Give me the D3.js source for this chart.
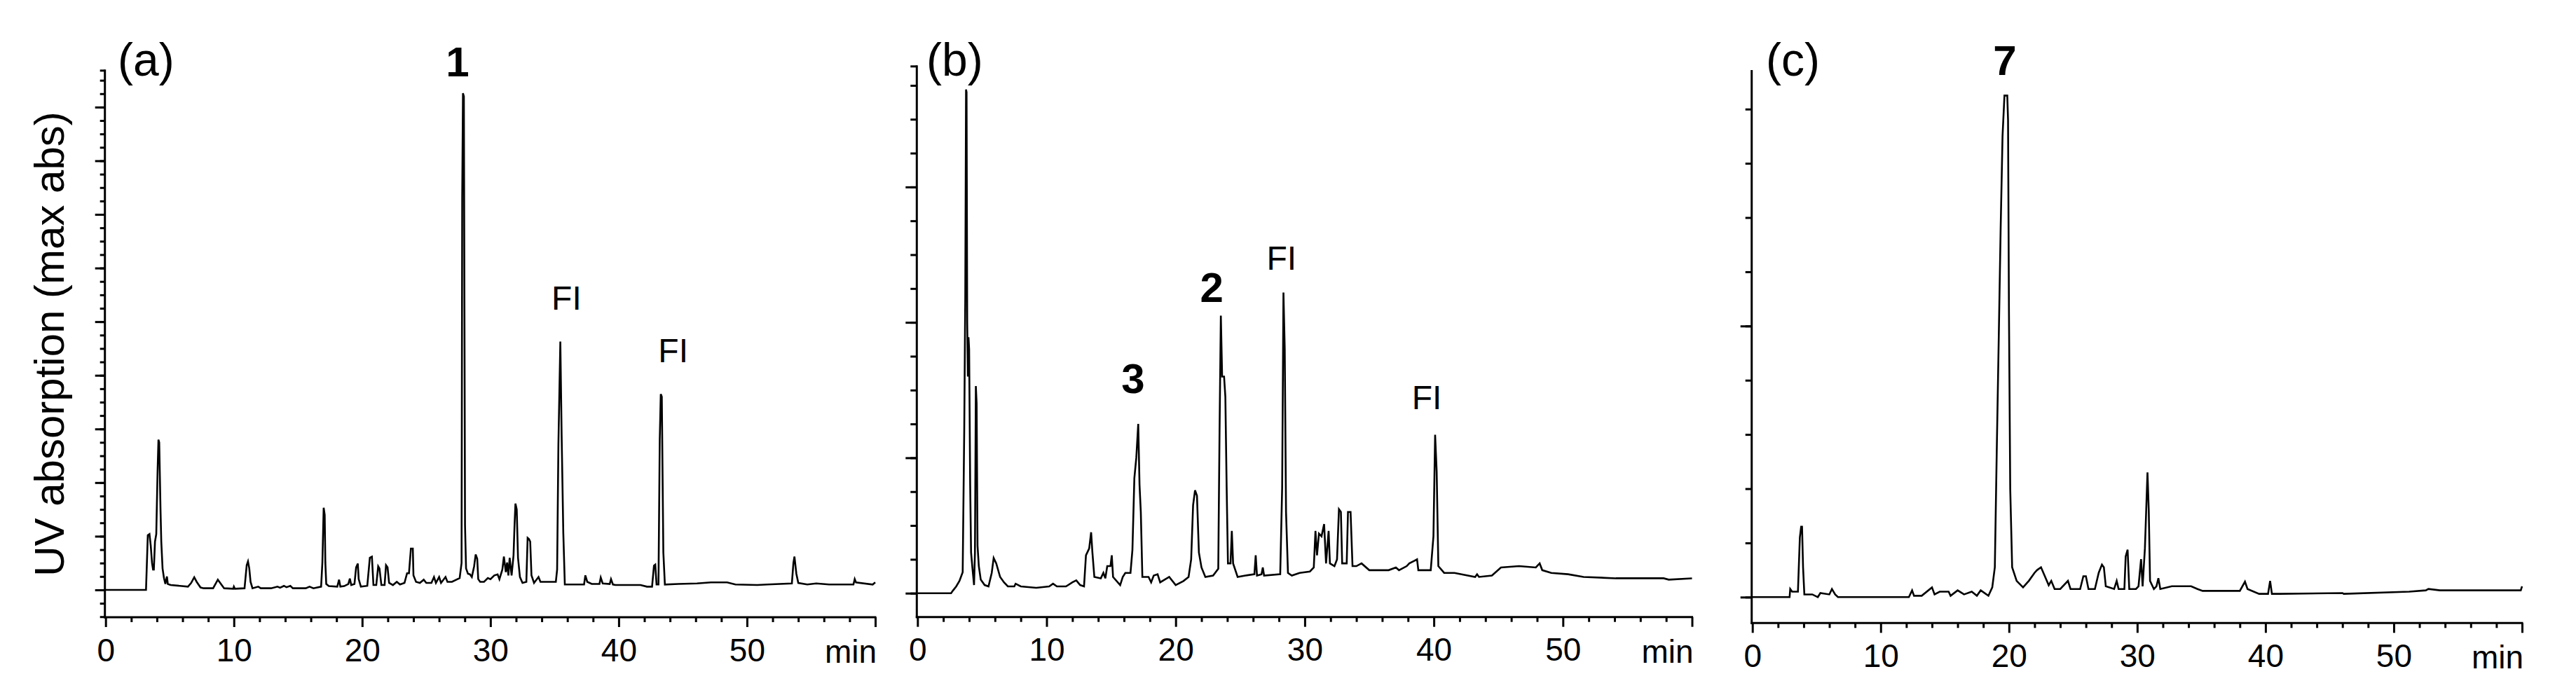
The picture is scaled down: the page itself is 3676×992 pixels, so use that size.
<!DOCTYPE html>
<html>
<head>
<meta charset="utf-8">
<script src="https://cdn.jsdelivr.net/npm/d3@7"></script>
<style>
  body { margin: 0; background: #fff; }
  svg { display: block; }
  text { font-family: "Liberation Sans", Arial, sans-serif; fill: #000; }
</style>
</head>
<body>
<div id="chart"></div>
<script>
// chromatogram traces, [time (min), absorbance in tick units]
const traceA = [
  [0,0],[3.15,0],[3.29,1.02],[3.42,1.04],[3.52,0.82],[3.62,0.5],[3.7,0.38],[3.76,0.38],[3.85,0.9],[3.95,1.04],
  [4.05,2.2],[4.12,2.8],[4.18,2.75],[4.28,1.5],[4.34,0.9],[4.44,0.4],[4.55,0.22],[4.66,0.11],[4.78,0.25],[4.85,0.11],
  [5.07,0.09],[5.8,0.075],[6.42,0.06],[6.67,0.13],[6.91,0.235],[7.1,0.15],[7.4,0.045],[7.65,0.03],[8.38,0.03],[8.75,0.19],
  [8.99,0.11],[9.24,0.03],[9.95,0.02],[10.0,0.06],[10.08,0.02],[10.83,0.03],[11.0,0.46],[11.1,0.53],[11.2,0.4],[11.3,0.15],
  [11.45,0.03],[11.9,0.06],[12.1,0.03],[12.9,0.03],[13.4,0.06],[13.6,0.04],[13.9,0.075],[14.1,0.05],[14.4,0.075],[14.6,0.03],
  [15.6,0.03],[15.9,0.06],[16.2,0.03],[16.8,0.06],[16.9,0.51],[17.0,1.53],[17.08,1.4],[17.13,0.51],[17.2,0.11],[17.4,0.07],
  [18.06,0.06],[18.2,0.19],[18.3,0.06],[18.6,0.07],[18.92,0.11],[19.04,0.21],[19.15,0.09],[19.4,0.11],[19.53,0.42],[19.66,0.49],
  [19.73,0.2],[19.9,0.06],[20.4,0.075],[20.6,0.6],[20.76,0.62],[20.88,0.09],[21.1,0.09],[21.25,0.44],[21.35,0.4],[21.5,0.09],
  [21.75,0.09],[21.86,0.46],[21.98,0.42],[22.1,0.13],[22.4,0.09],[22.7,0.15],[22.95,0.1],[23.3,0.13],[23.5,0.31],[23.65,0.31],
  [23.8,0.77],[23.95,0.77],[24.0,0.27],[24.2,0.15],[24.5,0.13],[24.8,0.19],[25.0,0.13],[25.4,0.13],[25.6,0.24],[25.75,0.13],
  [26.0,0.24],[26.15,0.13],[26.5,0.24],[26.65,0.15],[27.0,0.15],[27.6,0.22],[27.75,0.5],[27.8,7.3],[27.86,9.26],[27.93,9.2],
  [28.02,1.2],[28.1,0.4],[28.25,0.3],[28.4,0.29],[28.55,0.24],[28.73,0.44],[28.85,0.66],[28.97,0.58],[29.05,0.2],[29.2,0.15],
  [29.5,0.15],[29.8,0.22],[30.0,0.2],[30.3,0.27],[30.56,0.29],[30.7,0.2],[30.93,0.38],[31.05,0.62],[31.2,0.33],[31.3,0.51],
  [31.4,0.27],[31.5,0.6],[31.65,0.27],[31.8,0.64],[31.88,1.2],[31.95,1.61],[32.05,1.5],[32.15,0.6],[32.3,0.24],[32.5,0.13],
  [32.8,0.15],[32.9,0.97],[33.0,0.95],[33.1,0.9],[33.2,0.27],[33.4,0.13],[33.75,0.24],[33.9,0.15],[34.5,0.15],[35.1,0.15],
  [35.2,0.38],[35.3,2.72],[35.45,4.63],[35.55,2.9],[35.68,1.07],[35.8,0.1],[36.5,0.1],[37.3,0.1],[37.4,0.27],[37.55,0.15],
  [37.9,0.11],[38.5,0.11],[38.6,0.23],[38.75,0.12],[39.3,0.11],[39.4,0.2],[39.55,0.1],[39.75,0.09],[41.7,0.09],[42.2,0.06],
  [42.6,0.06],[42.75,0.45],[42.85,0.47],[42.95,0.1],[43.1,0.1],[43.2,2.8],[43.28,3.65],[43.36,3.6],[43.48,0.7],[43.6,0.1],
  [44.65,0.11],[46.1,0.12],[47.2,0.14],[48.45,0.14],[49.1,0.1],[50.8,0.09],[51.6,0.1],[53.5,0.12],[53.62,0.5],[53.7,0.62],
  [53.85,0.3],[54.0,0.13],[54.7,0.1],[55.4,0.12],[56.4,0.1],[58.3,0.1],[58.4,0.2],[58.5,0.14],[59.8,0.1],[60,0.14]
];

const traceB = [
  [0,0],[2.6,0],[2.75,0.02],[3.0,0.05],[3.25,0.09],[3.5,0.155],[3.62,1.2],[3.7,2.18],[3.76,3.72],[3.8,3.7],
  [3.85,2.0],[3.9,1.6],[3.95,1.89],[4.0,1.8],[4.08,0.8],[4.15,0.3],[4.25,0.19],[4.38,0.06],[4.45,0.3],[4.52,1.53],
  [4.58,1.4],[4.65,0.35],[4.75,0.2],[4.9,0.1],[5.2,0.06],[5.5,0.05],[5.75,0.15],[5.9,0.26],[6.1,0.22],[6.4,0.12],
  [6.7,0.08],[7.0,0.05],[7.5,0.05],[7.6,0.07],[8.0,0.05],[9.2,0.04],[10.2,0.05],[10.5,0.07],[10.8,0.05],[11.5,0.05],
  [12.0,0.08],[12.3,0.095],[12.6,0.06],[12.9,0.05],[13.05,0.28],[13.3,0.33],[13.45,0.45],[13.55,0.3],[13.7,0.12],[14.2,0.11],
  [14.4,0.15],[14.55,0.11],[14.7,0.2],[14.95,0.2],[15.05,0.28],[15.15,0.12],[15.7,0.06],[15.9,0.12],[16.1,0.15],[16.5,0.15],
  [16.65,0.32],[16.8,0.85],[16.95,1.0],[17.1,1.25],[17.2,0.8],[17.3,0.6],[17.42,0.12],[17.9,0.12],[18.1,0.08],[18.3,0.13],
  [18.6,0.14],[18.8,0.08],[19.5,0.12],[20.0,0.06],[20.6,0.09],[21.0,0.12],[21.2,0.25],[21.35,0.65],[21.5,0.76],[21.65,0.72],
  [21.8,0.3],[22.0,0.19],[22.3,0.12],[22.9,0.13],[23.3,0.18],[23.4,1.2],[23.5,2.05],[23.6,1.6],[23.75,1.6],[23.85,1.45],
  [23.95,0.78],[24.05,0.22],[24.25,0.22],[24.35,0.46],[24.45,0.22],[24.8,0.12],[25.4,0.13],[26.1,0.14],[26.2,0.28],[26.3,0.13],
  [26.65,0.14],[26.75,0.19],[26.85,0.13],[28.1,0.14],[28.25,0.78],[28.35,2.22],[28.45,1.8],[28.55,0.6],[28.7,0.15],[29.0,0.13],
  [29.6,0.15],[30.4,0.16],[30.7,0.19],[30.83,0.46],[30.95,0.28],[31.1,0.44],[31.3,0.42],[31.5,0.51],[31.65,0.22],[31.85,0.46],
  [31.95,0.22],[32.3,0.2],[32.5,0.25],[32.65,0.62],[32.8,0.6],[32.9,0.22],[33.25,0.22],[33.35,0.6],[33.55,0.6],[33.7,0.2],
  [34.0,0.2],[34.4,0.22],[35.0,0.17],[36.5,0.17],[37.06,0.19],[37.3,0.17],[37.9,0.2],[38.1,0.22],[38.5,0.24],[38.7,0.25],
  [38.8,0.17],[39.76,0.17],[39.97,0.42],[40.1,1.17],[40.22,0.9],[40.35,0.2],[40.8,0.15],[41.6,0.15],[43.2,0.12],[43.35,0.14],
  [43.5,0.12],[44.5,0.13],[45.2,0.19],[46.6,0.2],[47.9,0.19],[48.2,0.22],[48.4,0.17],[49.1,0.15],[50.4,0.14],[51.6,0.12],
  [54.1,0.11],[57.8,0.11],[58.2,0.1],[60,0.11]
];

const traceC = [
  [0,0],[2.9,0],[2.95,0.03],[3.1,0.02],[3.55,0.02],[3.7,0.22],[3.8,0.26],[3.87,0.26],[3.95,0.11],[4.05,0.01],
  [4.67,0.01],[5.1,0],[5.3,0.015],[6.0,0.01],[6.2,0.03],[6.45,0.01],[6.67,0],[12.2,0],[12.45,0.025],[12.6,0.005],
  [13.2,0.005],[14.0,0.036],[14.2,0.01],[14.6,0.02],[15.3,0.02],[15.45,0.005],[16.0,0.025],[16.5,0.01],[17.1,0.02],[17.5,0.005],
  [17.8,0.025],[18.4,0.005],[18.7,0.036],[18.9,0.11],[19.05,0.54],[19.2,0.94],[19.35,1.35],[19.5,1.7],[19.65,1.85],[19.87,1.85],
  [19.93,1.76],[20.0,1.06],[20.1,0.4],[20.25,0.11],[20.6,0.06],[21.1,0.036],[21.55,0.06],[22.0,0.09],[22.2,0.1],[22.5,0.11],
  [22.8,0.077],[23.1,0.044],[23.3,0.06],[23.56,0.03],[24.0,0.03],[24.6,0.06],[24.8,0.03],[25.55,0.03],[25.8,0.077],[26.0,0.077],
  [26.2,0.03],[26.7,0.03],[27.0,0.09],[27.25,0.12],[27.4,0.11],[27.55,0.04],[28.2,0.03],[28.4,0.06],[28.55,0.03],[29.0,0.03],
  [29.1,0.15],[29.25,0.175],[29.38,0.03],[29.9,0.03],[30.1,0.04],[30.3,0.14],[30.42,0.04],[30.6,0.18],[30.8,0.46],[30.9,0.32],
  [31.0,0.06],[31.3,0.03],[31.5,0.04],[31.65,0.07],[31.8,0.03],[32.7,0.04],[33.5,0.04],[34.2,0.04],[34.7,0.03],[35.1,0.023],
  [36.7,0.023],[38.0,0.023],[38.4,0.057],[38.6,0.03],[39.5,0.012],[40.2,0.012],[40.36,0.06],[40.5,0.012],[41.1,0.012],[46.0,0.015],
  [46.1,0.012],[51.2,0.02],[52.5,0.025],[52.7,0.03],[53.6,0.025],[59.9,0.025],[60,0.04]
];

const xMajorTicks = [0, 10, 20, 30, 40, 50, 60];
const xMinorTicks = d3.range(0, 61, 2).filter(d => d % 10 !== 0);
const xUnitLabel = "min";
const yTitle = "UV absorption (max abs)";
const panelNames = ["(a)", "(b)", "(c)"];

// peak annotations: [text, time, level of text baseline]
const compoundLabelsA = [["1", 27.44, 9.57]];
const compoundLabelsB = [["3", 16.7, 1.478], ["2", 22.8, 2.15]];
const compoundLabelsC = [["7", 19.68, 1.927]];
const fiLabelsA = [["FI", 35.93, 5.22], ["FI", 44.25, 4.24]];
const fiLabelsB = [["FI", 28.2, 2.39], ["FI", 39.45, 1.36]];
const fiLabelsC = [];

// y ticks per panel
const yMajorA = d3.range(0, 10, 1), yMinorA = d3.range(-0.5, 9.6, 0.25);
const yMajorB = d3.range(0, 4, 1),  yMinorB = d3.range(0, 3.8, 0.25);
const yMajorC = [0, 1],             yMinorC = d3.range(0, 1.81, 0.2);

const W = 3676, H = 992;

const svg = d3.select("#chart").append("svg")
    .attr("width", W).attr("height", H);
svg.append("rect").attr("width", W).attr("height", H).attr("fill", "#fff");

const panels = [
  {name: panelNames[0], trace: traceA, comp: compoundLabelsA, fi: fiLabelsA,
   xr: [150.7, 1249], yDom: [-0.51, 9.70], yr: [881, 99.3],
   yMajor: yMajorA, yMinor: yMinorA, endTick: true, nameX: 168, majLen: 14, minLen: 7},
  {name: panelNames[1], trace: traceB, comp: compoundLabelsB, fi: fiLabelsB,
   xr: [1309.3, 2414.5], yDom: [-0.176, 3.898], yr: [880.7, 93.3],
   yMajor: yMajorB, yMinor: yMinorB, endTick: true, nameX: 1322, majLen: 16, minLen: 9},
  {name: panelNames[2], trace: traceC, comp: compoundLabelsC, fi: fiLabelsC,
   xr: [2500.7, 3599], yDom: [-0.0956, 1.944], yr: [889.3, 100],
   yMajor: yMajorC, yMinor: yMinorC, endTick: false, nameX: 2520, majLen: 16, minLen: 9}
];

const line = d3.line().x(d => d[0]).y(d => d[1]);

panels.forEach(p => {
  const x = d3.scaleLinear().domain([0, 60]).range(p.xr);
  const y = d3.scaleLinear().domain(p.yDom).range(p.yr);
  const g = svg.append("g");
  const axisX = p.xr[0] - 1;

  // y minor + major ticks
  const yMin = d3.axisLeft(y).tickValues(p.yMinor).tickSize(p.minLen).tickSizeOuter(0).tickFormat("");
  const yMaj = d3.axisLeft(y).tickValues(p.yMajor).tickSize(p.majLen).tickSizeOuter(0).tickFormat("");
  [yMin, yMaj].forEach(a => {
    const ga = g.append("g").attr("transform", `translate(${axisX},0)`).call(a);
    ga.select(".domain").remove();
    ga.selectAll("line").attr("stroke", "#000").attr("stroke-width", 3);
  });
  if (p.endTick) {
    g.append("line").attr("x1", axisX - p.minLen).attr("x2", axisX)
      .attr("y1", p.yr[1] + 1.5).attr("y2", p.yr[1] + 1.5)
      .attr("stroke", "#000").attr("stroke-width", 3);
  }

  // x ticks
  const xMin = d3.axisBottom(x).tickValues(xMinorTicks).tickSize(7).tickSizeOuter(0).tickFormat("");
  const xMaj = d3.axisBottom(x).tickValues(xMajorTicks).tickSize(14).tickSizeOuter(0)
      .tickPadding(16).tickFormat(d => d < 60 ? d : "");
  [xMin, xMaj].forEach(a => {
    const ga = g.append("g").attr("transform", `translate(0,${p.yr[0]})`).call(a);
    ga.select(".domain").remove();
    ga.selectAll("line").attr("stroke", "#000").attr("stroke-width", 3);
    ga.selectAll("text").attr("font-size", 46).attr("font-family", null).attr("fill", "#000");
  });
  g.append("text").attr("x", p.xr[1] + 2).attr("y", p.yr[0] + 65)
    .attr("text-anchor", "end").attr("font-size", 46).text(xUnitLabel);

  // axis lines
  g.append("line").attr("x1", axisX).attr("x2", axisX)
    .attr("y1", p.yr[1]).attr("y2", p.yr[0] + 1.5)
    .attr("stroke", "#000").attr("stroke-width", 3);
  g.append("line").attr("x1", axisX - 1.5).attr("x2", p.xr[1] + 1.5)
    .attr("y1", p.yr[0]).attr("y2", p.yr[0])
    .attr("stroke", "#000").attr("stroke-width", 3);

  // trace
  g.append("path").datum(p.trace.map(d => [x(d[0]), y(d[1])]))
    .attr("fill", "none").attr("stroke", "#000").attr("stroke-width", 2.6)
    .attr("stroke-linejoin", "miter").attr("d", line);

  // panel name
  g.append("text").attr("x", p.nameX).attr("y", 108).attr("font-size", 66).text(p.name);

  // annotations
  p.comp.forEach(c => {
    g.append("text").attr("x", x(c[1])).attr("y", y(c[2]))
      .attr("text-anchor", "middle").attr("font-size", 60).attr("font-weight", "bold").text(c[0]);
  });
  p.fi.forEach(c => {
    g.append("text").attr("x", x(c[1])).attr("y", y(c[2]))
      .attr("text-anchor", "middle").attr("font-size", 48).text(c[0]);
  });
});

// shared y title
svg.append("text")
  .attr("transform", "translate(91,491) rotate(-90)")
  .attr("text-anchor", "middle").attr("font-size", 60).text(yTitle);
</script>
</body>
</html>
